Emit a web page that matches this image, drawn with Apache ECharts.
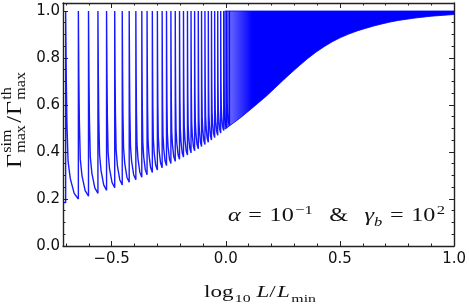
<!DOCTYPE html>
<html><head><meta charset="utf-8">
<script src="https://cdn.jsdelivr.net/npm/echarts@6/dist/echarts.min.js"></script>
<style>html,body{margin:0;padding:0;background:#fff}#c{width:469px;height:307px}</style>
</head><body><div id="c"></div>
<script>
// ---- axis ranges and ticks ----
const xMin = -0.713, xMax = 1.0, yMin = 0, yMax = 1.034;
const xTickValues = [-0.5, 0, 0.5, 1.0];
const xTickLabels = ['\u22120.5', '0.0', '0.5', '1.0'];
const xMinorValues = [-0.7, -0.6, -0.4, -0.3, -0.2, -0.1, 0.1, 0.2, 0.3, 0.4, 0.6, 0.7, 0.8, 0.9];
const yTickValues = [0, 0.2, 0.4, 0.6, 0.8, 1.0];
const yTickLabels = ['0.0', '0.2', '0.4', '0.6', '0.8', '1.0'];
const yMinorValues = [0.05, 0.1, 0.15, 0.25, 0.3, 0.35, 0.45, 0.5, 0.55, 0.65, 0.7, 0.75, 0.85, 0.9, 0.95];

// ---- data ----
// resolvable spikes: x position of each spike (log10 L/Lmin)
const peakX = [-0.7013, -0.6457, -0.6013, -0.5600, -0.5222, -0.4865, -0.4535, -0.4230, -0.3939, -0.3678,
  -0.3448, -0.3217, -0.2996, -0.2787, -0.2596, -0.2404, -0.2213, -0.2026, -0.1852, -0.1678,
  -0.1522, -0.1365, -0.1204, -0.1061, -0.0913, -0.0765, -0.0626, -0.0487, -0.0352, -0.0222,
  -0.0091, 0.0035, 0.0161];
// minimum value reached just before each spike
const troughY = [0.185, 0.200, 0.212, 0.224, 0.237, 0.248, 0.260, 0.271, 0.282, 0.293,
  0.303, 0.313, 0.323, 0.333, 0.342, 0.351, 0.360, 0.369, 0.378, 0.387,
  0.396, 0.405, 0.414, 0.423, 0.432, 0.441, 0.451, 0.461, 0.471, 0.481,
  0.491, 0.501, 0.512];
const spikeTop = 1.0;
// decay shape of one tooth (fraction of tooth width, fraction of the drop)
const toothT = [0, 0.05, 0.10, 0.19, 0.36, 0.67, 1.0];
const toothD = [0, 0.37, 0.60, 0.80, 0.89, 0.97, 1.0];
// dense region: lower envelope of the oscillation band (upper edge is 1.0)
const envX = [-0.004, 0.0609, 0.1174, 0.177, 0.213, 0.249, 0.2857, 0.3217, 0.3578, 0.3943, 0.4304, 0.4665,
  0.503, 0.5391, 0.5752, 0.6117, 0.6478, 0.6839, 0.7204, 0.7565, 0.8291, 0.9013, 1.0];
const envLow = [0.497, 0.543, 0.588, 0.637, 0.670, 0.703, 0.736, 0.767, 0.797, 0.824, 0.848, 0.869,
  0.887, 0.902, 0.915, 0.926, 0.936, 0.945, 0.953, 0.960, 0.970, 0.978, 0.985];

// ---- build series data ----
const teeth = [[xMin, troughY[0]]];
for (let i = 0; i < peakX.length; i++) {
  teeth.push([peakX[i], troughY[i]]);
  teeth.push([peakX[i], spikeTop]);
  if (i + 1 < peakX.length) {
    const x0 = peakX[i], x1 = peakX[i + 1], m = troughY[i + 1];
    for (let k = 1; k < toothT.length - 1; k++) {
      teeth.push([x0 + (x1 - x0) * toothT[k], spikeTop - (spikeTop - m) * toothD[k]]);
    }
  }
}
const bandData = envX.map((x, i) => [x, envLow[i]]);

const BLUE = '#0000ff';
const FRAME = '#222';
const FAM = '"Liberation Serif", serif';

function nearestLabel(v, vals, labs) {
  let best = -1, bd = 1e9;
  vals.forEach((t, i) => { const d = Math.abs(t - v); if (d < bd) { bd = d; best = i; } });
  return bd < 1e-6 ? labs[best] : '';
}
function xAx(pos, ticks, len, withLabels, line) {
  return {
    type: 'value', min: xMin, max: xMax, position: pos, gridIndex: 0,
    axisLine: { show: line, onZero: false, lineStyle: { color: FRAME, width: 1.4 } },
    axisTick: { show: true, inside: true, length: len, customValues: ticks, lineStyle: { color: FRAME, width: 1 } },
    axisLabel: withLabels ? {
      show: true, customValues: xTickValues, margin: 6, color: '#111',
      fontFamily: 'DejaVu Sans', fontSize: 15,
      formatter: v => nearestLabel(v, xTickValues, xTickLabels)
    } : { show: false },
    splitLine: { show: false }
  };
}
function yAx(pos, ticks, len, withLabels, line) {
  return {
    type: 'value', min: yMin, max: yMax, position: pos, gridIndex: 0,
    axisLine: { show: line, onZero: false, lineStyle: { color: FRAME, width: 1.4 } },
    axisTick: { show: true, inside: true, length: len, customValues: ticks, lineStyle: { color: FRAME, width: 1 } },
    axisLabel: withLabels ? {
      show: true, customValues: yTickValues, margin: 3, color: '#111',
      fontFamily: 'DejaVu Sans', fontSize: 15,
      formatter: v => nearestLabel(v, yTickValues, yTickLabels)
    } : { show: false },
    splitLine: { show: false }
  };
}

// ---- math-like text layout (measured with canvas) ----
const mctx = document.createElement('canvas').getContext('2d');
function mathGroup(parts, x, y, rot, targetW) {
  let cur = 0, prevStart = 0;
  const children = [];
  parts.forEach(p => {
    const font = (p.it ? 'italic ' : '') + p.s + 'px ' + FAM;
    mctx.font = font;
    const w = mctx.measureText(p.t).width;
    let sx;
    if (p.stack) { sx = prevStart; } else { sx = cur + (p.gap || 0); prevStart = sx; }
    children.push({
      type: 'text', x: sx, y: (p.dy || 0) - 0.3 * p.s,
      style: { text: p.t, font: font, fill: '#111', align: 'left', textAlign: 'left', verticalAlign: 'middle', textVerticalAlign: 'middle' }
    });
    cur = Math.max(cur, sx + w);
  });
  const sc = targetW ? targetW / cur : 1;
  return { type: 'group', x: x, y: y, rotation: rot, scaleX: sc, scaleY: 1, z: 100, children: children };
}

const yTitle = mathGroup([
  { t: '\u0393', s: 21 },
  { t: 'sim', s: 14, dy: -10, gap: 1 },
  { t: 'max', s: 14, dy: 4, stack: true },
  { t: '/', s: 21, gap: 2 },
  { t: '\u0393', s: 21, gap: 1 },
  { t: 'th', s: 14, dy: -10, gap: 1 },
  { t: 'max', s: 14, dy: 4, stack: true }
], 22, 168, Math.PI / 2, 96);

const xTitle = mathGroup([
  { t: 'log', s: 16 },
  { t: '10', s: 11, dy: 4, gap: 1 },
  { t: 'L', s: 16, it: true, gap: 4 },
  { t: '/', s: 16 },
  { t: 'L', s: 16, it: true, gap: 1 },
  { t: 'min', s: 11, dy: 4, gap: 1 }
], 204, 298, 0, 112);

const note = mathGroup([
  { t: '\u03b1', s: 19, it: true },
  { t: '=', s: 19, gap: 6 },
  { t: '10', s: 19, gap: 6 },
  { t: '\u22121', s: 13, dy: -8, gap: 1 },
  { t: '&', s: 19, gap: 13 },
  { t: '\u03b3', s: 19, it: true, gap: 13 },
  { t: 'b', s: 13, it: true, dy: 4 },
  { t: '=', s: 19, gap: 6 },
  { t: '10', s: 19, gap: 6 },
  { t: '2', s: 13, dy: -8, gap: 1 }
], 228, 222, 0, 217);

const chart = echarts.init(document.getElementById('c'), null, { renderer: 'canvas' });
chart.setOption({
  animation: false,
  backgroundColor: '#fff',
  grid: { left: 63, right: 13, top: 3, bottom: 61, containLabel: false },
  xAxis: [
    xAx('bottom', xTickValues, 5, true, true),
    xAx('bottom', xMinorValues, 2.5, false, false),
    xAx('top', xTickValues, 5, false, true),
    xAx('top', xMinorValues, 2.5, false, false)
  ],
  yAxis: [
    yAx('left', yTickValues, 5, true, true),
    yAx('left', yMinorValues, 2.5, false, false),
    yAx('right', yTickValues, 5, false, true),
    yAx('right', yMinorValues, 2.5, false, false)
  ],
  series: [
    {
      type: 'custom', name: 'band', data: bandData, clip: true, silent: true, z: 2,
      encode: { x: 0, y: 1 },
      renderItem: function (params, api) {
        if (params.dataIndex !== 0) return null;
        const pts = [];
        for (let i = 0; i < envX.length; i++) pts.push(api.coord([envX[i], envLow[i]]));
        for (let i = envX.length - 1; i >= 0; i--) pts.push(api.coord([envX[i], spikeTop]));
        return {
          type: 'polygon', shape: { points: pts },
          style: {
            fill: new echarts.graphic.LinearGradient(0, 0, 1, 0, [
              { offset: 0, color: 'rgba(0,0,255,0.5)' },
              { offset: 0.12, color: 'rgba(0,0,255,1)' },
              { offset: 1, color: 'rgba(0,0,255,1)' }
            ]),
            stroke: BLUE, lineWidth: 0.8
          }
        };
      }
    },
    {
      type: 'line', name: 'teeth', data: teeth, showSymbol: false, sampling: null, silent: true,
      lineStyle: { color: BLUE, width: 1.4, opacity: 0.9 }, z: 3
    }
  ],
  graphic: [yTitle, xTitle, note]
});
</script></body></html>
